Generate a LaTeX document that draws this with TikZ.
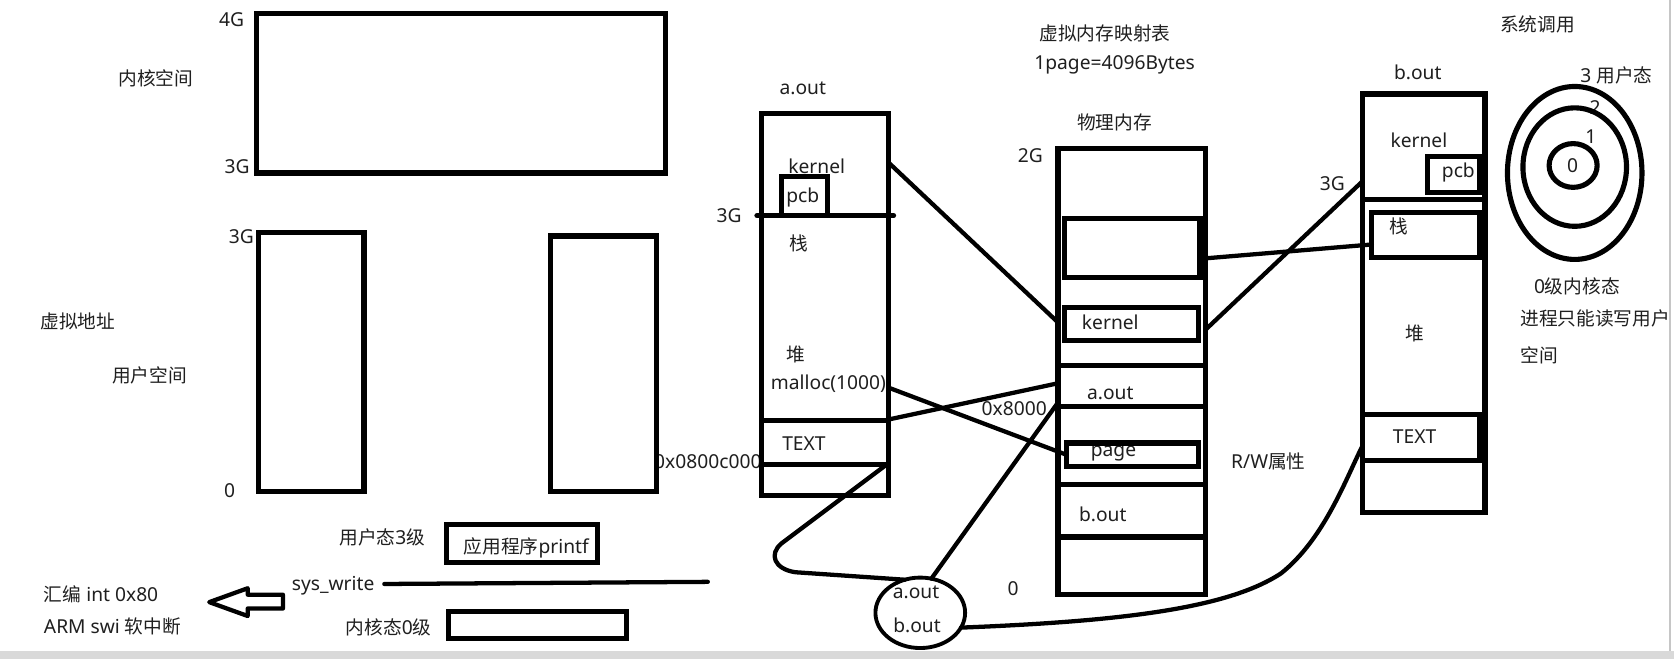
\documentclass[tikz,border=0pt]{standalone}
\usepackage{fontspec}
\setmainfont{Noto Sans}
\newfontfamily\cjkfam{Noto Sans CJK SC}
\newcommand\zh[1]{{\cjkfam\fontsize{17.5}{20}\selectfont #1}}
\usetikzlibrary{shapes.geometric}
\begin{document}
\begin{tikzpicture}[x=1pt,y=-1pt,
  box/.style={draw, line width=4.8pt, rectangle, inner sep=0pt, outer sep=0pt},
  bl/.style={line width=4.8pt},
  ring/.style={draw, ellipse, line width=4.8pt, inner sep=0pt, outer sep=0pt},
  conn/.style={line width=4pt, line cap=round, line join=round},
  lbl/.style={font=\fontsize{18}{20}\selectfont, inner sep=0pt, text=black!88}]
\useasboundingbox[fill=white] (0,0) rectangle (1568,617);
\fill[gray!30] (0,610) rectangle (1568,617);
\draw[gray!45, line width=1.5pt] (1564,0) -- (1564,610);

% ---------- texts (drawn first, boxes overlay) ----------
\node[lbl] (t4g) at (217,18) {4G};
\node[lbl] (t3ga) at (222,156) {3G};
\node[lbl] (tkspace) at (146,73) {\zh{内核空间}};
\node[lbl] (t3gb) at (226,222) {3G};
\node[lbl] (tvaddr) at (73,301) {\zh{虚拟地址}};
\node[lbl] (tuspace) at (140,352) {\zh{用户空间}};
\node[lbl] (t0a) at (215,460) {0};
\node[lbl] (tuser3) at (358,503) {\zh{用户态}3\zh{级}};
\node[lbl] (tapp) at (493,513) {\zh{应用程序}printf};
\node[lbl] (tsys) at (312,549) {sys\_write};
\node[lbl, anchor=west] (tasm) at (41,557) {\zh{汇编} int 0x80};
\node[lbl, anchor=west] (tarm) at (41,587) {ARM swi \zh{软中断}};
\node[lbl] (tk0) at (364,588) {\zh{内核态}0\zh{级}};
\node[lbl] (taddr) at (663,432) {0x0800c000};

\node[lbl] (taout) at (752,83) {a.out};
\node[lbl] (tak) at (765,156) {kernel};
\node[lbl] (tapcb) at (752,185) {pcb};
\node[lbl] (ta3g) at (683,202) {3G};
\node[lbl] (tastack) at (748,228) {\zh{栈}};
\node[lbl] (taheap) at (745,332) {\zh{堆}};
\node[lbl] (tmalloc) at (776,359) {malloc(1000)};
\node[lbl] (tatext) at (753,416) {TEXT};

\node[lbl] (tmap) at (1035,31) {\zh{虚拟内存映射表}};
\node[lbl] (tpage) at (1044,61) {1page=4096Bytes};
\node[lbl] (tphys) at (1044,115) {\zh{物理内存}};
\node[lbl] (t2g) at (965,146) {2G};
\node[lbl] (tpk) at (1040,302) {kernel};
\node[lbl] (tpa) at (1040,368) {a.out};
\node[lbl] (t8000) at (950,383) {0x8000};
\node[lbl] (tpg) at (1043,425) {page};
\node[lbl] (trw) at (1188,432) {R/W\zh{属性}};
\node[lbl] (tpb) at (1033,482) {b.out};
\node[lbl] (t0b) at (949,551) {0};
\node[lbl] (tda) at (858,555) {a.out};
\node[lbl] (tdb) at (859,586) {b.out};

\node[lbl] (tbout) at (1328,68) {b.out};
\node[lbl] (tbk) at (1329,131) {kernel};
\node[lbl] (tbpcb) at (1366,162) {pcb};
\node[lbl] (tb3g) at (1248,172) {3G};
\node[lbl] (tbstack) at (1310,212) {\zh{栈}};
\node[lbl] (tbheap) at (1325,312) {\zh{堆}};
\node[lbl] (tbtext) at (1325,409) {TEXT};

\node[lbl] (tsyscall) at (1440,23) {\zh{系统调用}};
\node[lbl] (tr3) at (1514,71) {3 \zh{用户态}};
\node[lbl] (tr2) at (1494,101) {2};
\node[lbl] (tr1) at (1490,128) {1};
\node[lbl] (tr0) at (1473,155) {0};
\node[lbl] (tkern0) at (1477,268) {0\zh{级内核态}};
\node[lbl, anchor=west] (tproc) at (1424,298) {\zh{进程只能读写用户}};
\node[lbl, anchor=west] (tproc2) at (1424,333) {\zh{空间}};

% ---------- left: address space ----------
\node[box, minimum width=383pt, minimum height=149pt] (kspace) at (431.5,87.5) {};
\node[box, minimum width=99pt, minimum height=242pt] (uspaceA) at (291.5,339) {};
\node[box, minimum width=99pt, minimum height=239pt] (uspaceB) at (565.5,340.5) {};
\node[box, minimum width=142pt, minimum height=36pt] (appbox) at (489,509) {};
\node[box, minimum width=167pt, minimum height=25pt] (kbox) at (503.5,585.5) {};
\coordinate (swA) at (360,547);
\coordinate (swB) at (663,545);
\draw[conn] (swA) -- (swB);
\draw[line width=4pt, line join=round] (196,564) -- (232,551) -- (232,557) -- (265,557)
  -- (265,570) -- (232,570) -- (232,577) -- cycle;

% ---------- a.out ----------
\node[box, minimum width=119pt, minimum height=358pt] (aout) at (772.5,285) {};
\coordinate (g3L) at (709,202);
\coordinate (g3R) at (837,202);
\draw[bl, line cap=round] (g3L) -- (g3R);
\node[box, minimum width=43pt, minimum height=37pt] (apcb) at (753.5,183.5) {};
\draw[bl] (aout.west |- 0,394) -- (aout.east |- 0,394);
\draw[bl] (aout.west |- 0,435) -- (aout.east |- 0,435);

% ---------- physical memory ----------
\node[box, minimum width=138pt, minimum height=418pt] (phys) at (1060,348) {};
\node[box, minimum width=127pt, minimum height=55pt] (pbox1) at (1060.5,232.5) {};
\node[box, minimum width=126pt, minimum height=31pt] (pkern) at (1060,303.5) {};
\draw[bl] (phys.west |- 0,342) -- (phys.east |- 0,342);
\draw[bl] (phys.west |- 0,381) -- (phys.east |- 0,381);
\node[box, minimum width=124pt, minimum height=22pt] (ppage) at (1061,426) {};
\draw[bl] (phys.west |- 0,454) -- (phys.east |- 0,454);
\draw[bl] (phys.west |- 0,503) -- (phys.east |- 0,503);

% ---------- b.out ----------
\node[box, minimum width=115pt, minimum height=392pt] (bout) at (1333.5,284) {};
\draw[bl] (bout.west |- 0,187) -- (bout.east |- 0,187);
\node[box, minimum width=49pt, minimum height=33pt] (bpcb) at (1361.5,163.5) {};
\node[box, minimum width=101pt, minimum height=42pt] (bstack) at (1335.5,220) {};
\node[box, minimum width=110pt, minimum height=43pt] (btext) at (1331,409.5) {};

% ---------- rings ----------
\node[ring, minimum width=126pt, minimum height=162pt] (ring3) at (1475,162) {};
\node[ring, minimum width=97pt, minimum height=111pt] (ring1) at (1475,156.5) {};
\node[ring, minimum width=45pt, minimum height=41pt] (ring0) at (1473.5,155) {};

% ---------- disk ----------
\node[ring, line width=3.6pt, minimum width=84pt, minimum height=66pt] (disk) at (862,574) {};

% ---------- connectors ----------
\draw[conn] (aout.east |- 0,152) -- (phys.west |- 0,302);
\draw[conn] (aout.east |- 0,393) -- (phys.west |- 0,359);
\draw[conn] (aout.east |- 0,363) -- (ppage.west);
\draw[conn] (aout.east |- 0,434) -- (732,509) .. controls (720,519) and (725,533) .. (745,536) -- (disk.115);
\draw[conn] (disk.72) -- (phys.west |- 0,377);
\draw[conn] (disk.-20) .. controls (1050,582) and (1150,570) .. (1200,537)
  .. controls (1240,505) and (1260,450) .. (bout.west |- 0,418);
\draw[conn] (phys.east |- 0,242) -- (bstack.west |- 0,229);
\draw[conn] (phys.east |- 0,309) -- (bout.west |- 0,170);
\end{tikzpicture}
\end{document}
